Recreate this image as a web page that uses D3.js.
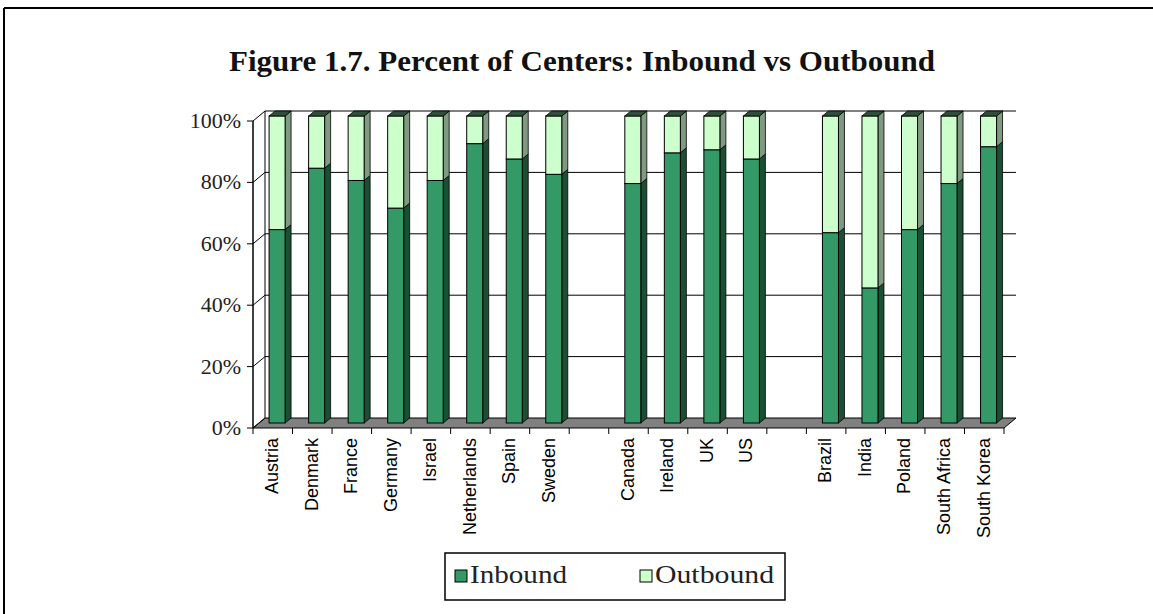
<!DOCTYPE html>
<html><head><meta charset="utf-8">
<script src="https://cdn.jsdelivr.net/npm/d3@7"></script>
<style>body{margin:0;background:#fff}svg{display:block}</style></head>
<body><svg id="c" width="1153" height="614"></svg>
<script>
// ---- data ----
const groupEurope = ["Austria","Denmark","France","Germany","Israel","Netherlands","Spain","Sweden"];
const groupAnglo = ["Canada","Ireland","UK","US"];
const groupEmerging = ["Brazil","India","Poland","South Africa","South Korea"];
const categories = [...groupEurope, ...groupAnglo, ...groupEmerging];
const inbound  = [63, 83, 79, 70, 79, 91, 86, 81, 78, 88, 89, 86, 62, 44, 63, 78, 90];
const outbound = [37, 17, 21, 30, 21,  9, 14, 19, 22, 12, 11, 14, 38, 56, 37, 22, 10];
const yTicks = [0, 20, 40, 60, 80, 100];
const seriesNames = ["Inbound", "Outbound"];
const title = "Figure 1.7. Percent of Centers: Inbound vs Outbound";

// slots incl. blank gaps between groups
const slots = [...groupEurope, "_gap1", ...groupAnglo, "_gap2", ...groupEmerging];

const svg = d3.select("#c");
const colIn = "#339966", colInSide = "#1b4f33", colOut = "#ccffcc", colOutSide = "#7f9a80", colTop = "#2f4f3a";

const x = d3.scaleBand().domain(slots).range([253, 1004]).paddingInner(0).paddingOuter(0);
const y = d3.scaleLinear().domain([0, 100]).range([428, 121]);
const DX = 12, DY = -10; // depth offset
const P = (px, py, d) => [px + DX * d, py + DY * d];

// outer frame
svg.append("line").attr("x1",4).attr("y1",8).attr("x2",1153).attr("y2",8).attr("stroke","#000").attr("stroke-width",2);
svg.append("line").attr("x1",4).attr("y1",8).attr("x2",4).attr("y2",614).attr("stroke","#000").attr("stroke-width",2);

// title
svg.append("text").attr("x", 582).attr("y", 71).attr("text-anchor","middle")
  .attr("font-family","'Liberation Serif','Times New Roman',serif").attr("font-weight","bold")
  .attr("font-size",30).attr("textLength",706).attr("lengthAdjust","spacingAndGlyphs").attr("fill","#111").text(title);

const x0 = x.range()[0], x1 = x.range()[1];
// floor
svg.append("polygon").attr("points",[P(x0,y(0),0),P(x1,y(0),0),P(x1,y(0),1),P(x0,y(0),1)].map(p=>p.join(",")).join(" "))
  .attr("fill","#808080").attr("stroke","#000").attr("stroke-width",1);
// side wall edges
svg.append("line").attr("x1",x0+DX).attr("y1",y(0)+DY).attr("x2",x0+DX).attr("y2",y(100)+DY).attr("stroke","#000");
svg.append("line").attr("x1",x0).attr("y1",y(0)).attr("x2",x0).attr("y2",y(100)).attr("stroke","#000").attr("stroke-width",1.5);
// gridlines on back wall + side wall connectors
yTicks.forEach(t => {
  if (t > 0) svg.append("line").attr("x1",x0+DX).attr("x2",x1+DX).attr("y1",y(t)+DY).attr("y2",y(t)+DY).attr("stroke","#000");
  svg.append("line").attr("x1",x0).attr("y1",y(t)).attr("x2",x0+DX).attr("y2",y(t)+DY).attr("stroke","#000");
  svg.append("line").attr("x1",x0-6).attr("x2",x0).attr("y1",y(t)).attr("y2",y(t)).attr("stroke","#000");
  svg.append("text").attr("x",241).attr("y",y(t)+7).attr("text-anchor","end")
    .attr("font-family","'Liberation Serif','Times New Roman',serif").attr("font-size",22).attr("fill","#222")
    .text(t + "%");
});
// x ticks at slot boundaries
slots.forEach((s,i) => {
  const xs = x(s);
  svg.append("line").attr("x1",xs).attr("x2",xs).attr("y1",y(0)).attr("y2",y(0)+6).attr("stroke","#000");
});
svg.append("line").attr("x1",x1).attr("x2",x1).attr("y1",y(0)).attr("y2",y(0)+6).attr("stroke","#000");

// bars
const bw = x.bandwidth();
const poly = pts => pts.map(p=>p.join(",")).join(" ");
categories.forEach((c,i) => {
  const bx0 = x(c) + bw*0.255, bx1 = bx0 + bw*0.405;
  const segs = [[0, inbound[i], colIn, colInSide], [inbound[i], inbound[i]+outbound[i], colOut, colOutSide]];
  segs.forEach(([a,b,cf,cs], k) => {
    const f0 = P(bx0, y(b), 0.5), f1 = P(bx1, y(a), 0.5);
    // side
    svg.append("polygon").attr("points", poly([P(bx1,y(b),0.5),P(bx1,y(b),1),P(bx1,y(a),1),P(bx1,y(a),0.5)]))
      .attr("fill",cs).attr("stroke","#000").attr("stroke-width",0.8);
    // front
    svg.append("rect").attr("x",f0[0]).attr("y",f0[1]).attr("width",f1[0]-f0[0]).attr("height",f1[1]-f0[1])
      .attr("fill",cf).attr("stroke","#000").attr("stroke-width",1);
    if (k === 1) {
      svg.append("polygon").attr("points", poly([P(bx0,y(b),0.5),P(bx0,y(b),1),P(bx1,y(b),1),P(bx1,y(b),0.5)]))
        .attr("fill",colTop).attr("stroke","#000").attr("stroke-width",0.8);
    }
  });
  // label
  const lx = x(c) + bw/2 - 1;
  svg.append("text").attr("transform",`translate(${lx},438) rotate(-90)`).attr("text-anchor","end")
    .attr("dy","0.35em").attr("font-family","'Liberation Sans',Arial,sans-serif").attr("font-size",18).attr("fill","#000")
    .text(c);
});

// legend
const lg = svg.append("g");
lg.append("rect").attr("x",445).attr("y",553).attr("width",340).attr("height",47).attr("fill","#fff").attr("stroke","#000").attr("stroke-width",1.5);
const legX = [455, 640], legLen = [97, 119];
seriesNames.forEach((n,k) => {
  lg.append("rect").attr("x",legX[k]).attr("y",570).attr("width",12).attr("height",12)
    .attr("fill", k===0?colIn:colOut).attr("stroke","#000");
  lg.append("text").attr("x",legX[k]+15).attr("y",583).attr("font-family","'Liberation Serif','Times New Roman',serif")
    .attr("font-size",25).attr("textLength",legLen[k]).attr("lengthAdjust","spacingAndGlyphs").attr("fill","#222").text(n);
});
</script></body></html>
